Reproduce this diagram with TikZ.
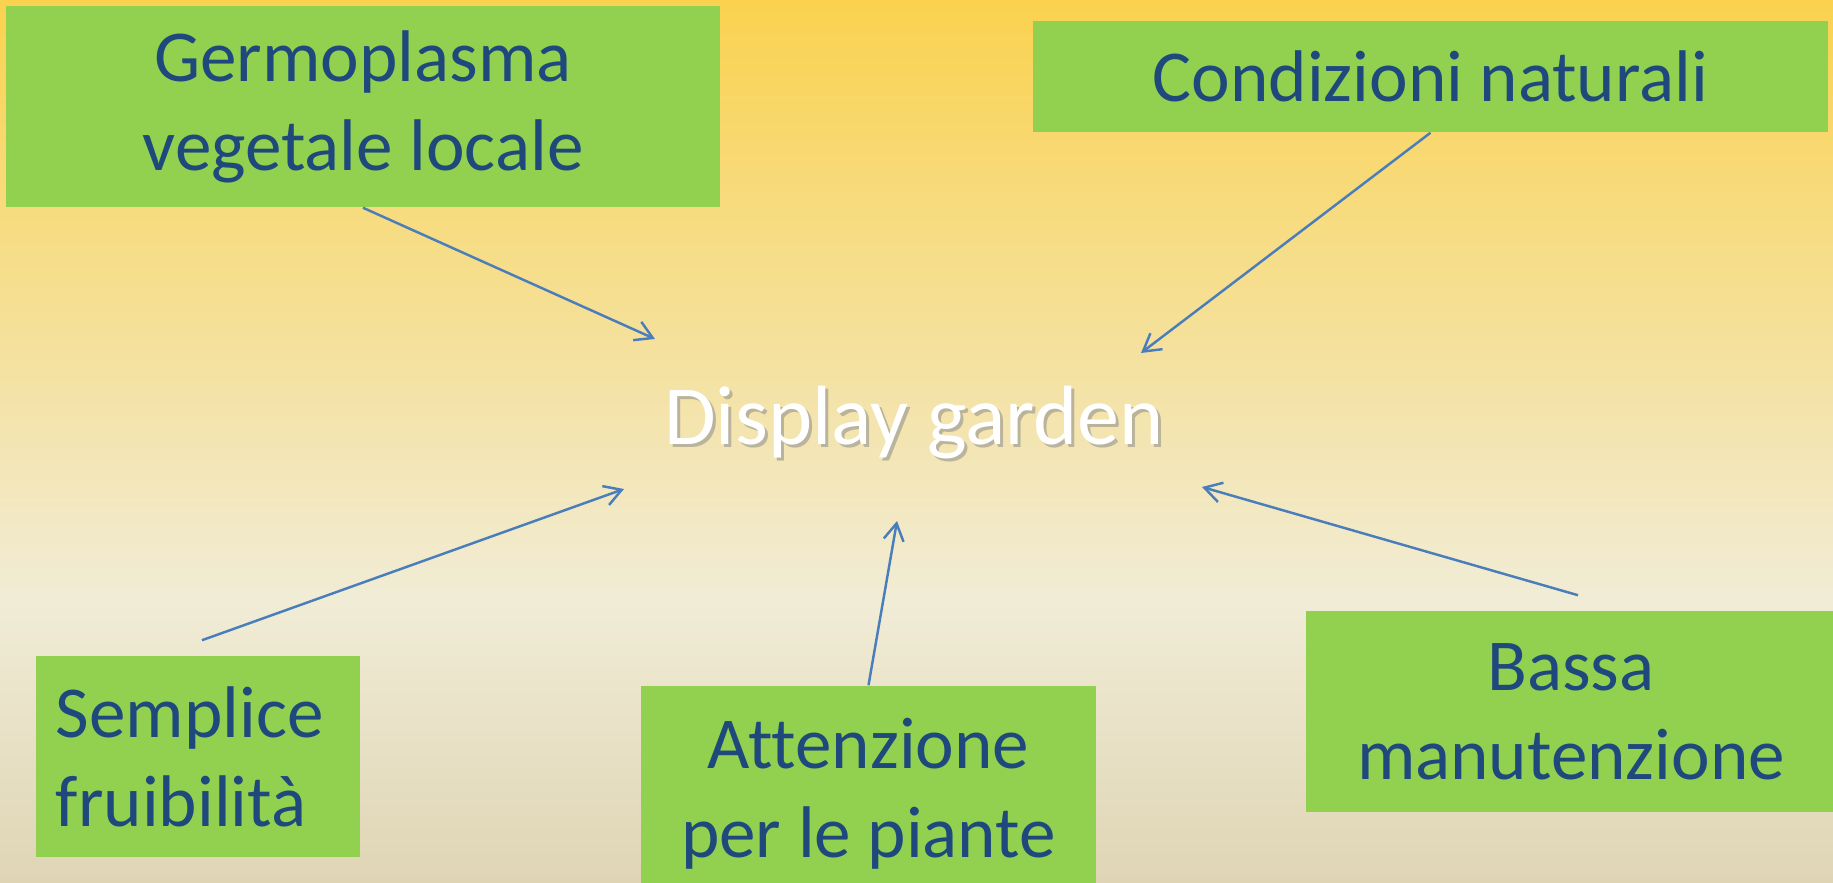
\documentclass[tikz,border=0pt]{standalone}
\usepackage{fontspec}
\setmainfont{Carlito}[Ligatures=CommonOff]
\usetikzlibrary{arrows.meta}
\definecolor{boxgreen}{HTML}{92D050}
\definecolor{textblue}{HTML}{1F497D}
\definecolor{arrowblue}{HTML}{4A7EBB}
\definecolor{bgtop}{HTML}{FAD24F}
\definecolor{bgmid}{HTML}{F5DB86}
\definecolor{bglight}{HTML}{F1ECD6}
\definecolor{bgbottom}{HTML}{DFD5B5}

\begin{document}
\begin{tikzpicture}[x=0.01cm, y=-0.01cm,
    topic/.style={fill=boxgreen, text=textblue, align=center, inner sep=0pt,
      font=\fontsize{20.8}{25.3}\selectfont},
    centre/.style={anchor=base, font=\fontsize{23.9}{28}\selectfont},
    arr/.style={draw=arrowblue, line width=0.7pt,
      -{Straight Barb[length=0.17cm, width=0.2cm]}}]
    \useasboundingbox (0,0) rectangle (1833,883);
    \clip (0,0) rectangle (1833,883);
    % background
    \shade[top color=bgtop, middle color=bgmid, bottom color=bglight] (0,0) rectangle (1833,601);
    \shade[top color=bglight, bottom color=bgbottom] (0,600) rectangle (1833,883);

    % centre text with its shadow
    \node[centre, text=black!45, opacity=0.55] (dgshadow) at (917,448) {Display garden};
    \node[centre, text=white] (dg) at (914,445) {Display garden};

    % boxes
    \node[topic, minimum width=7.14cm, minimum height=2.01cm] (germ) at (363,106.5) {Germoplasma\\vegetale locale};
    \node[topic, minimum width=7.95cm, minimum height=1.11cm] (cond) at (1430.5,76.5) {Condizioni naturali};
    \node[topic, minimum width=3.24cm, minimum height=2.01cm, align=left, text width=2.84cm] (semp) at (198,756.5) {Semplice\\fruibilità};
    \node[topic, minimum width=4.55cm, minimum height=2.15cm] (attn) at (868.5,793.5) {Attenzione\\per le piante};
    \node[topic, minimum width=5.30cm, minimum height=2.01cm] (bassa) at (1571,711.5) {Bassa\\manutenzione};

    % arrow ends near the centre
    \coordinate (germend) at (655,339);
    \coordinate (condend) at (1141,353);
    \coordinate (sempend) at (624,489);
    \coordinate (attnend) at (897,521);
    \coordinate (bassaend) at (1202,487);

    % arrows
    \draw[arr] (germ.south) -- (germend);
    \draw[arr] (cond.south) -- (condend);
    \draw[arr] ([shift={(4,-15)}]semp.north) -- (sempend);
    \draw[arr] (attn.north) -- (attnend);
    \draw[arr] ([shift={(7,-15)}]bassa.north) -- (bassaend);
\end{tikzpicture}
\end{document}
